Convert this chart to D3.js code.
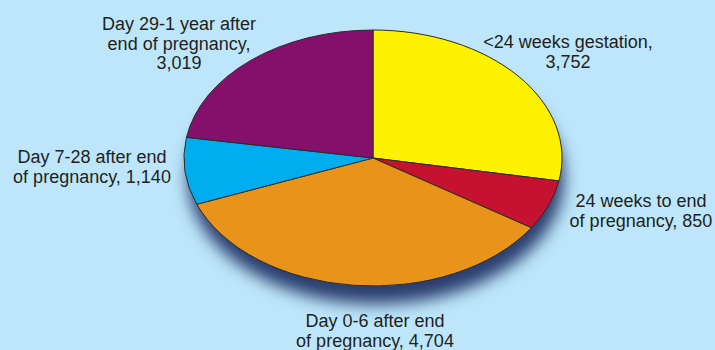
<!DOCTYPE html>
<html>
<head>
<meta charset="utf-8">
<script src="https://cdn.jsdelivr.net/npm/d3@7/dist/d3.min.js"></script>
<style>
  html, body { margin: 0; padding: 0; background: #bde6fa; }
  svg { display: block; }
  text { font-family: "Liberation Sans", Arial, sans-serif; fill: #231f20; }
</style>
</head>
<body>
<svg id="chart" width="715" height="350"></svg>
<script>
// Deaths by timing relative to pregnancy
const categories = [
  "<24 weeks gestation",
  "24 weeks to end of pregnancy",
  "Day 0-6 after end of pregnancy",
  "Day 7-28 after end of pregnancy",
  "Day 29-1 year after end of pregnancy"
];
const values = [3752, 850, 4704, 1140, 3019];
const colors = ["#fff200", "#c41230", "#e8941a", "#00aeef", "#84106c"];
// Label lines; the value is appended to the last line
const labelLines = [
  ["<24 weeks gestation,", ""],
  ["24 weeks to end", "of pregnancy, "],
  ["Day 0-6 after end", "of pregnancy, "],
  ["Day 7-28 after end", "of pregnancy, "],
  ["Day 29-1 year after", "end of pregnancy,", ""]
];

const W = 715, H = 350;
const cx = 373, cy = 158, rx = 189, ry = 128;
const fmt = d3.format(",");

const svg = d3.select("#chart");
const defs = svg.append("defs");

defs.append("filter").attr("id", "shadowBlur")
  .attr("x", "-30%").attr("y", "-30%").attr("width", "160%").attr("height", "160%")
  .append("feGaussianBlur").attr("stdDeviation", 8);

// Drop shadow under the tilted pie
svg.append("ellipse")
  .attr("cx", cx + 3).attr("cy", cy + 20)
  .attr("rx", rx - 1).attr("ry", ry - 2)
  .attr("fill", "#2a3c6e")
  .attr("filter", "url(#shadowBlur)");

const pie = d3.pie().sort(null).value(d => d)(values);
const arc = d3.arc().innerRadius(0).outerRadius(rx);

const g = svg.append("g")
  .attr("transform", `translate(${cx},${cy}) scale(1,${ry / rx})`);

g.selectAll("path.slice")
  .data(pie)
  .join("path")
  .attr("class", "slice")
  .attr("d", arc)
  .attr("fill", (d, i) => colors[i])
  .attr("stroke", "#2b2b2b")
  .attr("stroke-width", 1)
  .attr("vector-effect", "non-scaling-stroke");

// Label anchor positions (centre of first baseline)
const labelPos = [
  [568, 48],
  [641, 207],
  [375, 327],
  [92, 163],
  [179, 30]
];
const lineH = 19.5;

labelLines.forEach((lines, i) => {
  const t = svg.append("text")
    .attr("text-anchor", "middle")
    .attr("font-size", 18);
  lines.forEach((ln, j) => {
    const txt = j === lines.length - 1 ? ln + fmt(values[i]) : ln;
    t.append("tspan")
      .attr("x", labelPos[i][0])
      .attr("y", labelPos[i][1] + j * lineH)
      .text(txt);
  });
});
</script>
</body>
</html>
